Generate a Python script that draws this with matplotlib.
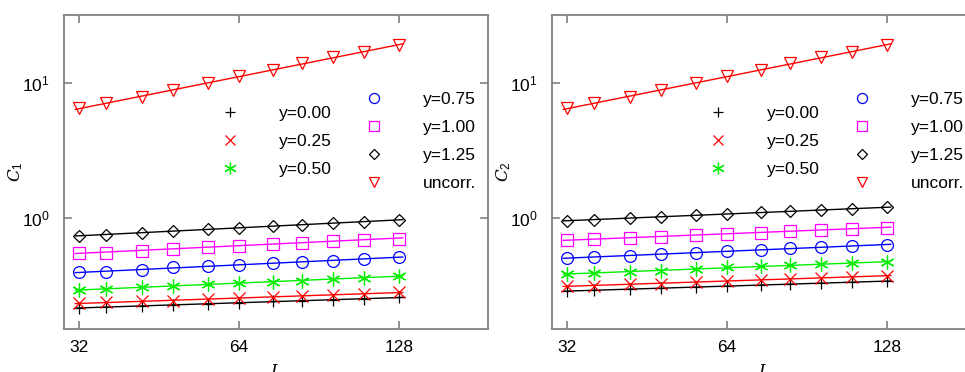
import numpy as np
import matplotlib
matplotlib.use("Agg")
import matplotlib.pyplot as plt
from matplotlib.lines import Line2D
from matplotlib.ticker import FixedLocator, FixedFormatter, NullLocator

plt.rcParams['font.family'] = ['Liberation Sans', 'DejaVu Sans']
plt.rcParams['mathtext.fontset'] = 'custom'
plt.rcParams['mathtext.rm'] = 'Liberation Sans'
plt.rcParams['mathtext.it'] = 'DejaVu Serif:italic'

# ---------------- data ----------------
L = [32, 36, 42, 48, 56, 64, 74, 84, 96, 110, 128]

labels = ["y=0.00", "y=0.25", "y=0.50", "y=0.75", "y=1.00", "y=1.25", "uncorr."]

C1_y000 = [0.214, 0.218, 0.223, 0.227, 0.231, 0.235, 0.240, 0.243, 0.247, 0.251, 0.257]
C1_y025 = [0.233, 0.236, 0.240, 0.244, 0.250, 0.254, 0.260, 0.264, 0.269, 0.274, 0.280]
C1_y050 = [0.293, 0.296, 0.306, 0.314, 0.323, 0.328, 0.336, 0.343, 0.351, 0.360, 0.372]
C1_y075 = [0.394, 0.400, 0.414, 0.429, 0.438, 0.449, 0.462, 0.472, 0.483, 0.497, 0.511]
C1_y100 = [0.547, 0.553, 0.573, 0.593, 0.610, 0.624, 0.642, 0.657, 0.672, 0.691, 0.703]
C1_y125 = [0.736, 0.748, 0.778, 0.806, 0.824, 0.843, 0.873, 0.888, 0.913, 0.939, 0.966]
C1_unc = [6.49, 7.07, 7.92, 8.88, 10.05, 11.27, 12.48, 13.99, 15.50, 17.07, 19.12]

C2_y000 = [0.288, 0.291, 0.296, 0.300, 0.306, 0.312, 0.317, 0.323, 0.328, 0.334, 0.341]
C2_y025 = [0.313, 0.315, 0.323, 0.326, 0.334, 0.340, 0.347, 0.351, 0.360, 0.366, 0.374]
C2_y050 = [0.383, 0.389, 0.400, 0.407, 0.419, 0.429, 0.441, 0.446, 0.454, 0.462, 0.469]
C2_y075 = [0.503, 0.511, 0.526, 0.538, 0.554, 0.567, 0.582, 0.596, 0.607, 0.617, 0.631]
C2_y100 = [0.687, 0.695, 0.715, 0.727, 0.744, 0.757, 0.779, 0.801, 0.820, 0.834, 0.848]
C2_y125 = [0.955, 0.972, 0.994, 1.017, 1.046, 1.071, 1.101, 1.120, 1.146, 1.166, 1.199]
C2_unc = [6.49, 7.07, 7.92, 8.88, 10.05, 11.27, 12.48, 13.99, 15.50, 17.07, 19.12]

x_ticks = [32, 64, 128]
x_ticklabels = ["32", "64", "128"]
y_ticks = [1, 10]
y_ticklabels = [r"$\mathregular{10^0}$", r"$\mathregular{10^1}$"]

# ---------------- styles ----------------
ast = (6, 2, 0)
styles = [
    dict(color='black', marker='+', ms=9, mew=0.9, mfc='none'),
    dict(color='red', marker='x', ms=8, mew=0.9, mfc='none'),
    dict(color='#00ee00', marker=ast, ms=10, mew=0.9, mfc='none'),
    dict(color='blue', marker='o', ms=8.5, mew=0.9, mfc='none'),
    dict(color='magenta', marker='s', ms=8.5, mew=0.9, mfc='none'),
    dict(color='black', marker='D', ms=6, mew=0.9, mfc='none'),
    dict(color='red', marker='v', ms=8.5, mew=0.9, mfc='none'),
]

FS = 12.5
fig = plt.figure(figsize=(9.65, 3.72), dpi=100)
ax1 = fig.add_axes([64/965, 43/372, 424/965, 314/372])
ax2 = fig.add_axes([552/965, 43/372, 424/965, 314/372])

panels = [
    (ax1, [C1_y000, C1_y025, C1_y050, C1_y075, C1_y100, C1_y125, C1_unc], r"$C_1$"),
    (ax2, [C2_y000, C2_y025, C2_y050, C2_y075, C2_y100, C2_y125, C2_unc], r"$C_2$"),
]

x = np.array(L, dtype=float)
xfit = np.array([31.5, 130.0])
for ax, series, ylab in panels:
    handles = []
    for vals, st, lab in zip(series, styles, labels):
        v = np.array(vals)
        p = np.polyfit(np.log(x), np.log(v), 1)
        ax.plot(xfit, np.exp(np.polyval(p, np.log(xfit))), color=st['color'], lw=1.0, zorder=2)
        ax.plot(x, v, linestyle='none', marker=st['marker'], ms=st['ms'], mew=st['mew'],
                mfc=st['mfc'], mec=st['color'], zorder=3)
        handles.append(Line2D([], [], linestyle='none', marker=st['marker'], ms=st['ms'] * 0.85,
                              mew=st['mew'], mfc=st['mfc'], mec=st['color'], label=lab))
    ax.set_xscale('log')
    ax.set_yscale('log')
    ax.set_xlim(30, 188)
    ax.set_ylim(0.15, 32)
    ax.xaxis.set_major_locator(FixedLocator(x_ticks))
    ax.xaxis.set_major_formatter(FixedFormatter(x_ticklabels))
    ax.xaxis.set_minor_locator(NullLocator())
    ax.yaxis.set_major_locator(FixedLocator(y_ticks))
    ax.yaxis.set_major_formatter(FixedFormatter(y_ticklabels))
    ax.yaxis.set_minor_locator(NullLocator())
    ax.tick_params(which='major', direction='in', length=6, width=1.2, color='#808080',
                   top=True, right=True, labelsize=FS)
    ax.tick_params(axis='x', pad=8)
    ax.tick_params(axis='y', pad=10)
    for s in ax.spines.values():
        s.set_color('#808080')
        s.set_linewidth(1.3)
    ax.set_ylabel(ylab, fontsize=12)
    ax.yaxis.set_label_coords(-39/424, 0.5)
    ax.set_xlabel(r"$L$", fontsize=12)
    ax.xaxis.set_label_coords(0.5, -34/314)

    leg1 = ax.legend(handles=handles[:3], loc='upper left', bbox_to_anchor=(0.360, 0.7115),
                     frameon=False, fontsize=FS, handlelength=1.5, handletextpad=2.1,
                     labelspacing=0.75, borderaxespad=0, borderpad=0)
    ax.add_artist(leg1)
    ax.legend(handles=handles[3:], loc='upper left', bbox_to_anchor=(0.700, 0.756),
              frameon=False, fontsize=FS, handlelength=1.5, handletextpad=2.1,
              labelspacing=0.75, borderaxespad=0, borderpad=0)

fig.savefig("out.png", dpi=100)
